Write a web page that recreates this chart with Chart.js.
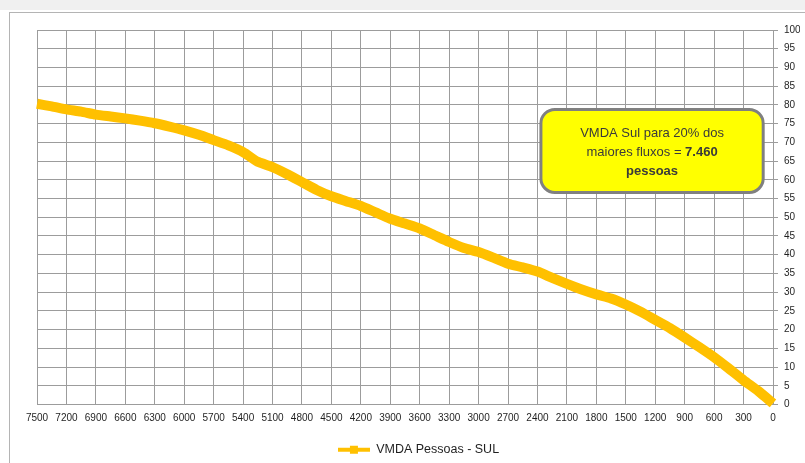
<!DOCTYPE html>
<html>
<head>
<meta charset="utf-8">
<script src="https://cdn.jsdelivr.net/npm/chart.js@4.4.1/dist/chart.umd.min.js"></script>
<style>
  html, body { margin: 0; padding: 0; background: #ffffff; }
  body { width: 805px; height: 463px; position: relative; overflow: hidden; }
  .topband { position: absolute; left: 0; top: 0; width: 805px; height: 10px; background: #f0f0f0; }
  .frame { position: absolute; left: 9px; top: 12px; width: 820px; height: 470px; border: 1px solid #b4b4b4; background: #fff; }
  #chart { position: absolute; left: 0; top: 0; }
</style>
</head>
<body>
<div class="topband"></div>
<div class="frame"></div>
<canvas id="chart" width="805" height="469"></canvas>
<script>
// VMDA (pessoas) ranked, x axis runs from 7500 down to 0
const xValues = [7500, 7350, 7200, 7050, 6900, 6750, 6600, 6450, 6300, 6150,
  6000, 5850, 5700, 5550, 5400, 5250, 5100, 4950, 4800, 4650,
  4500, 4350, 4200, 4050, 3900, 3750, 3600, 3450, 3300, 3150,
  3000, 2850, 2700, 2550, 2400, 2250, 2100, 1950, 1800, 1650,
  1500, 1350, 1200, 1050, 900, 750, 600, 450, 300, 150, 0];
const percentValues = [80.3, 79.6, 78.8, 78.2, 77.4, 76.9, 76.4, 75.8, 75.1, 74.2,
  73.2, 72.0, 70.6, 69.2, 67.4, 64.8, 63.4, 61.5, 59.4, 57.3,
  55.6, 54.3, 53.0, 51.3, 49.6, 48.3, 47.0, 45.2, 43.4, 41.8,
  40.7, 39.2, 37.6, 36.6, 35.5, 33.8, 32.2, 30.7, 29.4, 28.3,
  26.7, 24.8, 22.6, 20.4, 17.9, 15.3, 12.6, 9.6, 6.5, 3.6, 0.3];
const seriesLabel = 'VMDA Pessoas - SUL';
const noteLines = ['VMDA Sul para 20% dos', 'maiores fluxos = ', '7.460', 'pessoas'];

const LINE_COLOR = '#ffc000';
const GRID_COLOR = '#9c9c9c';
const TEXT_COLOR = '#1f1f1f';
const FONT = '"Liberation Sans", Arial, sans-serif';

// legend marker: short line with a square on it
const legendIcon = document.createElement('canvas');
legendIcon.width = 32;
legendIcon.height = 10;
{
  const c = legendIcon.getContext('2d');
  c.fillStyle = LINE_COLOR;
  c.fillRect(0, 3, 32, 4);
  c.fillRect(12, 1, 8, 8);
}

// yellow note box, placed in data coordinates
const noteBox = {
  id: 'noteBox',
  afterDraw(chart) {
    const { ctx, scales: { x, y } } = chart;
    const left = x.getPixelForValue(2365);
    const right = x.getPixelForValue(100);
    const top = y.getPixelForValue(78.8);
    const bottom = y.getPixelForValue(56.6);
    ctx.save();
    ctx.beginPath();
    ctx.roundRect(left, top, right - left, bottom - top, 14);
    ctx.fillStyle = '#ffff00';
    ctx.fill();
    ctx.lineWidth = 3;
    ctx.strokeStyle = '#808080';
    ctx.stroke();

    const cx = (left + right) / 2;
    const normal = '13px ' + FONT;
    const bold = 'bold 13px ' + FONT;
    ctx.fillStyle = '#3a3a3a';
    ctx.textBaseline = 'middle';
    ctx.textAlign = 'center';
    ctx.font = normal;
    ctx.fillText(noteLines[0], cx, top + 24);

    const w1 = ctx.measureText(noteLines[1]).width;
    ctx.font = bold;
    const w2 = ctx.measureText(noteLines[2]).width;
    const sx = cx - (w1 + w2) / 2;
    ctx.textAlign = 'left';
    ctx.font = normal;
    ctx.fillText(noteLines[1], sx, top + 43);
    ctx.font = bold;
    ctx.fillText(noteLines[2], sx + w1, top + 43);
    ctx.textAlign = 'center';
    ctx.fillText(noteLines[3], cx, top + 62);
    ctx.restore();
  }
};

const points = xValues.map((v, i) => ({ x: v, y: percentValues[i] }));

new Chart(document.getElementById('chart'), {
  type: 'line',
  data: {
    datasets: [{
      label: seriesLabel,
      data: points,
      borderColor: LINE_COLOR,
      backgroundColor: LINE_COLOR,
      borderWidth: 10,
      pointRadius: 0,
      pointStyle: legendIcon,
      tension: 0.2,
      clip: false,
    }]
  },
  options: {
    responsive: false,
    animation: false,
    layout: { padding: { left: 37, top: 30, right: 5, bottom: 3 } },
    plugins: {
      tooltip: { enabled: false },
      legend: {
        position: 'bottom',
        labels: {
          usePointStyle: true,
          pointStyleWidth: 32,
          color: TEXT_COLOR,
          font: { family: FONT, size: 12.5 },
          padding: 2,
        }
      }
    },
    scales: {
      x: {
        type: 'linear',
        reverse: true,
        min: 0,
        max: 7500,
        ticks: {
          stepSize: 300,
          autoSkip: false,
          maxRotation: 0,
          color: TEXT_COLOR,
          padding: 8,
          font: { family: FONT, size: 10 },
          callback: v => String(v)
        },
        grid: { color: GRID_COLOR, lineWidth: 1, drawTicks: false },
        border: { color: GRID_COLOR },
        afterFit: s => { s.height = 37; }
      },
      y: {
        position: 'right',
        min: 0,
        max: 100,
        ticks: {
          stepSize: 5,
          color: TEXT_COLOR,
          padding: 6,
          font: { family: FONT, size: 10 },
        },
        grid: { color: GRID_COLOR, lineWidth: 1, tickLength: 5 },
        border: { color: GRID_COLOR },
        afterFit: s => { s.width = 27; }
      }
    }
  },
  plugins: [noteBox]
});
</script>
</body>
</html>
